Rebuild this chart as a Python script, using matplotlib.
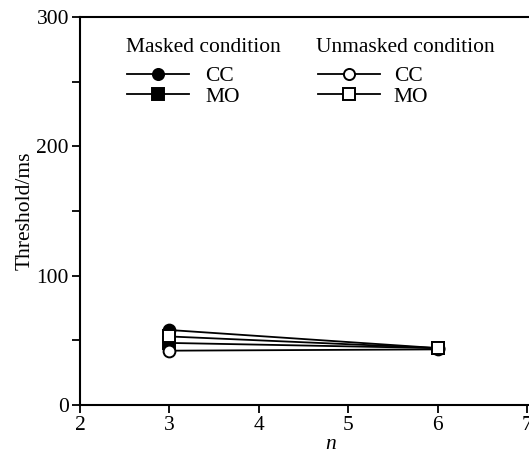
import numpy as np
import matplotlib.pyplot as plt
from matplotlib.ticker import MultipleLocator
from matplotlib.lines import Line2D

plt.rcParams['font.family'] = ['Liberation Serif', 'DejaVu Serif']
plt.rcParams['font.size'] = 15.5

n_vals = [3, 6]
masked_cc = [58, 44]
masked_mo = [48, 44]
unmasked_cc = [42, 43]
unmasked_mo = [53, 44]

fig = plt.figure(figsize=(5.29, 4.59), dpi=100)
ax = fig.add_axes([80 / 529, 54 / 459, 5.6 * 89.4 / 529, 388 / 459])

style = dict(color='black', lw=1.3, markersize=8.5, markeredgewidth=1.4)
ax.plot(n_vals, masked_cc, marker='o', mfc='black', **style)
ax.plot(n_vals, masked_mo, marker='s', mfc='black', **style)
ax.plot(n_vals, unmasked_cc, marker='o', mfc='white', **style)
ax.plot(n_vals, unmasked_mo, marker='s', mfc='white', **style)

ax.set_xlim(2, 7.6)
ax.set_ylim(0, 300)
ax.set_xticks([2, 3, 4, 5, 6, 7])
ax.set_yticks([0, 100, 200, 300])
ax.yaxis.set_minor_locator(MultipleLocator(50))
ax.tick_params(which='both', direction='out', length=6, width=1.3, labelsize=15.5, pad=2)
ax.spines['right'].set_visible(False)
for s in ['left', 'bottom', 'top']:
  ax.spines[s].set_linewidth(1.5)

ax.set_xlabel('n', fontstyle='italic', labelpad=0)
ax.set_ylabel('Threshold/ms', labelpad=1)

hs = dict(color='black', lw=1.3, markersize=8, markeredgewidth=1.4)
h1 = [Line2D([], [], marker='o', mfc='black', **hs),
      Line2D([], [], marker='s', mfc='black', **hs)]
h2 = [Line2D([], [], marker='o', mfc='white', **hs),
      Line2D([], [], marker='s', mfc='white', **hs)]

# group titles placed as text, entries as title-less legends
fig.text(126 / 529, 1 - 47 / 459, 'Masked condition', va='center', ha='left')
fig.text(316 / 529, 1 - 47 / 459, 'Unmasked condition', va='center', ha='left')

legStyle = dict(frameon=False, handlelength=2.9, labelspacing=0.03,
                borderpad=0, borderaxespad=0)
leg1 = ax.legend(h1, ['CC', 'MO'], handletextpad=0.75,
                 loc='upper left', bbox_to_anchor=(127 / 529, 1 - 66 / 459),
                 bbox_transform=fig.transFigure, **legStyle)
ax.add_artist(leg1)
leg2 = ax.legend(h2, ['CC', 'MO'], handletextpad=0.62,
                 loc='upper left', bbox_to_anchor=(318 / 529, 1 - 66 / 459),
                 bbox_transform=fig.transFigure, **legStyle)

plt.savefig('out.png', dpi=100)
